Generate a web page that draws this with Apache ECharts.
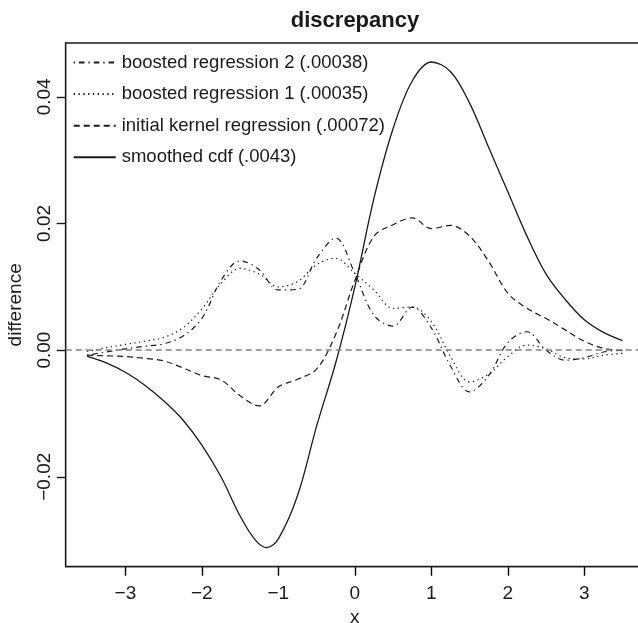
<!DOCTYPE html>
<html>
<head>
<meta charset="utf-8">
<script src="https://cdn.jsdelivr.net/npm/echarts@6/dist/echarts.min.js"></script>
<style>
html,body{margin:0;padding:0;background:#fff;}
#c{width:638px;height:623px;}
</style>
</head>
<body>
<div id="c"></div>
<script>
// x grid shared by the three regression curves
const xs = [-3.5,-3.25,-3.0,-2.75,-2.5,-2.25,-2.0,-1.75,-1.5,-1.25,-1.0,-0.75,-0.5,-0.25,0.0,0.25,0.5,0.75,1.0,1.25,1.5,1.75,2.0,2.25,2.5,2.75,3.0,3.25,3.5];
// smoothed cdf has its own x grid (extra point at its minimum)
const xsCdf = [-3.5,-3.25,-3.0,-2.75,-2.5,-2.25,-2.0,-1.75,-1.5,-1.3,-1.15,-1.0,-0.75,-0.5,-0.25,0.0,0.25,0.5,0.75,1.0,1.25,1.5,1.75,2.0,2.25,2.5,2.75,3.0,3.25,3.5];
const smoothedCdf = [-0.0010,-0.0020,-0.0035,-0.0055,-0.0080,-0.0110,-0.0150,-0.0200,-0.0262,-0.0300,-0.0312,-0.0298,-0.0230,-0.0120,-0.0020,0.0100,0.0240,0.0350,0.0425,0.0455,0.0440,0.0390,0.0320,0.0250,0.0180,0.0120,0.0080,0.0048,0.0028,0.0015];
const initialKernel = [-0.0008,-0.0009,-0.0010,-0.0013,-0.0017,-0.0028,-0.0040,-0.0047,-0.0072,-0.0088,-0.0058,-0.0046,-0.0030,0.0025,0.0110,0.0180,0.0198,0.0209,0.0192,0.0197,0.0180,0.0140,0.0090,0.0066,0.0050,0.0032,0.0014,0.0003,-0.0001];
const boosted1 = [-0.0002,0.0004,0.0009,0.0014,0.0020,0.0035,0.0065,0.0105,0.0129,0.0120,0.0100,0.0108,0.0135,0.0145,0.0121,0.0095,0.0066,0.0068,0.0045,-0.0010,-0.0050,-0.0038,-0.0010,0.0008,0.0002,-0.0012,-0.0014,-0.0008,-0.0005];
const boosted2 = [-0.0008,-0.0003,0.0002,0.0006,0.0010,0.0022,0.0050,0.0110,0.0141,0.0127,0.0095,0.0096,0.0145,0.0177,0.0121,0.0055,0.0038,0.0068,0.0035,-0.0025,-0.0066,-0.0040,0.0012,0.0029,0.0000,-0.0016,-0.0012,-0.0003,0.0000];

const seriesNames = ['boosted regression 2 (.00038)','boosted regression 1 (.00035)','initial kernel regression (.00072)','smoothed cdf (.0043)'];
const xTicks = [-3,-2,-1,0,1,2,3];
const yTicks = [-0.02,0,0.02,0.04];
const xRange = [-3.78,3.78];
const yRange = [-0.0342,0.0485];

const FONT = 'Liberation Sans, Arial, Helvetica, sans-serif';
const INK = '#1a1a1a';

function pairs(xv, ys){ return xv.map((x,i)=>[x,ys[i]]); }
function fmtY(v){ const s = Math.abs(v).toFixed(2); return (v < 0 ? '\u2212' : '') + s; }
function fmtX(v){ return (v < 0 ? '\u2212' : '') + Math.abs(v); }

const chart = echarts.init(document.getElementById('c'), null, {renderer:'canvas'});
const lineBase = {type:'line', symbol:'none', smooth:0.35, silent:true, animation:false, itemStyle:{color:INK}};

chart.setOption({
  backgroundColor:'#fff',
  animation:false,
  title:{
    text:'discrepancy', left:350, top:5, textAlign:'center',
    textStyle:{fontFamily:FONT, fontWeight:'bold', fontSize:22, color:INK}
  },
  legend:{
    orient:'vertical', left:72.7, top:53, padding:0, itemWidth:42, itemHeight:20, itemGap:12.6,
    data:seriesNames,
    itemStyle:{opacity:0},
    textStyle:{fontFamily:FONT, fontSize:18.5, color:INK, padding:[0,0,0,1]},
    selectedMode:false
  },
  grid:{left:65.7, top:43, width:578.3, height:523.7, outerBoundsMode:'none', containLabel:false,
        show:true, borderColor:INK, borderWidth:1.3, backgroundColor:'transparent'},
  xAxis:{
    type:'value', min:xRange[0], max:xRange[1], position:'bottom',
    name:'x', nameLocation:'middle', nameGap:41,
    nameTextStyle:{fontFamily:FONT, fontSize:19, color:INK},
    axisLine:{show:true, onZero:false, lineStyle:{color:INK, width:1.3}},
    axisTick:{show:true, inside:false, length:9, lineStyle:{color:'#000000', width:1.4}, customValues:xTicks},
    axisLabel:{fontFamily:FONT, fontSize:19, color:INK, margin:18, customValues:xTicks, formatter:fmtX},
    splitLine:{show:false}
  },
  yAxis:{
    type:'value', min:yRange[0], max:yRange[1], position:'left',
    name:'difference', nameLocation:'middle', nameGap:40,
    nameTextStyle:{fontFamily:FONT, fontSize:19, color:INK},
    axisLine:{show:true, onZero:false, lineStyle:{color:INK, width:1.3}},
    axisTick:{show:true, inside:false, length:9, lineStyle:{color:'rgb(30,20,20)', width:1.4}, customValues:yTicks},
    axisLabel:{fontFamily:FONT, fontSize:19, color:INK, margin:11, rotate:90, customValues:yTicks, formatter:fmtY},
    splitLine:{show:false}
  },
  series:[
    Object.assign({}, lineBase, {name:seriesNames[0], data:pairs(xs, boosted2), z:4,
      lineStyle:{color:INK, width:1.2, type:[1.3,4,5.5,4]}}),
    Object.assign({}, lineBase, {name:seriesNames[1], data:pairs(xs, boosted1), z:4,
      lineStyle:{color:INK, width:1.2, type:[1.3,3.5]}}),
    Object.assign({}, lineBase, {name:seriesNames[2], data:pairs(xs, initialKernel), z:4,
      lineStyle:{color:INK, width:1.2, type:[6,4]}}),
    Object.assign({}, lineBase, {name:seriesNames[3], data:pairs(xsCdf, smoothedCdf), z:4,
      lineStyle:{color:INK, width:1.3, type:'solid'},
      markLine:{silent:true, symbol:'none', animation:false, label:{show:false},
        lineStyle:{color:'#808080', width:1.6, type:[6,4]},
        data:[{yAxis:0}]}})
  ]
});
</script>
</body>
</html>
